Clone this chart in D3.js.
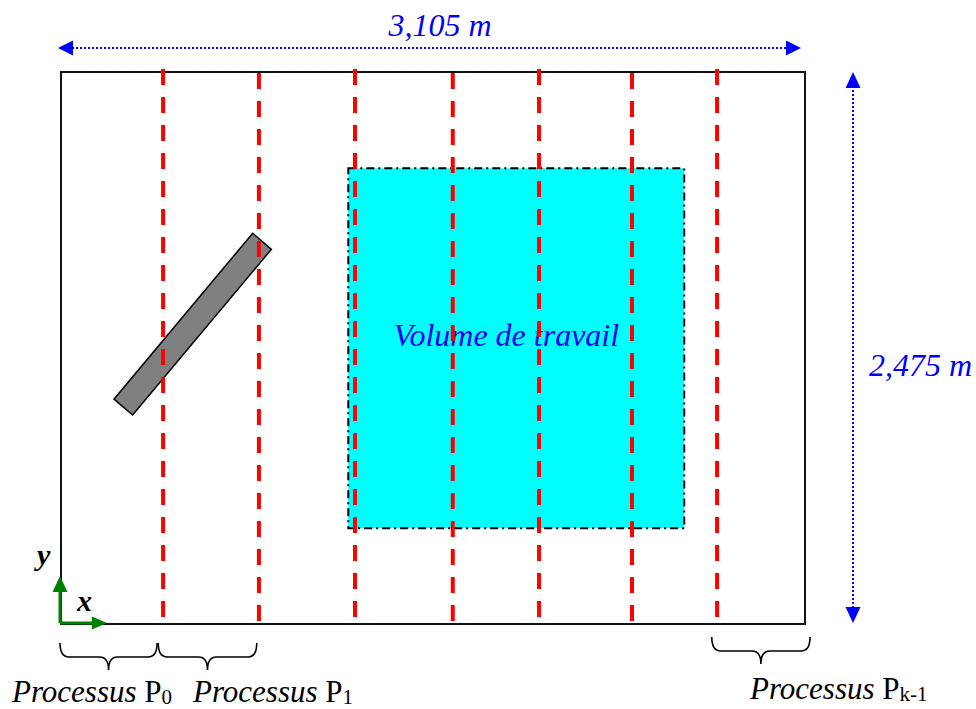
<!DOCTYPE html>
<html><head><meta charset="utf-8">
<script src="https://cdn.jsdelivr.net/npm/d3@7"></script>
<style>body{margin:0;background:#fff}svg{display:block}</style>
</head><body>
<svg id="c" width="976" height="709"></svg>
<script>
// ---- Data (metres) ----
const domainWidth = 3.105;
const domainHeight = 2.475;
const widthLabel = "3,105 m";
const heightLabel = "2,475 m";
const partitionX = [0.426, 0.826, 1.227, 1.635, 1.995, 2.383, 2.738];
const workVolumeX = [1.199, 2.601];
const workVolumeY = [0.429, 2.043];
const workVolumeLabel = "Volume de travail";
const barCornerX = [0.800, 0.878, 0.299, 0.221];
const barCornerY = [1.752, 1.680, 0.937, 1.008];
const processWord = "Processus";
const processSub = ["0", "1", "k-1"];
const braceStart = [0.000, 0.410, 2.720];
const braceEnd = [0.401, 0.817, 3.126];

// ---- Layout ----
const svg = d3.select("#c");
const x = d3.scaleLinear().domain([0, domainWidth]).range([61, 805]);
const y = d3.scaleLinear().domain([0, domainHeight]).range([624, 72]);
const serif = "'Liberation Serif','Times New Roman',serif";
const blue = "#0000ff", red = "#ff0000", green = "#008000";

// outer rectangle
svg.append("rect")
  .attr("x", x(0)).attr("y", y(domainHeight))
  .attr("width", x(domainWidth) - x(0)).attr("height", y(0) - y(domainHeight))
  .attr("fill", "none").attr("stroke", "#111").attr("stroke-width", 2);

// work volume
svg.append("rect")
  .attr("x", x(workVolumeX[0])).attr("y", y(workVolumeY[1]))
  .attr("width", x(workVolumeX[1]) - x(workVolumeX[0]))
  .attr("height", y(workVolumeY[0]) - y(workVolumeY[1]))
  .attr("fill", "#00ffff").attr("stroke", "#000").attr("stroke-width", 2)
  .attr("stroke-dasharray", "8,4,2,4");

svg.append("text")
  .attr("x", x((workVolumeX[0] + workVolumeX[1]) / 2) - 10)
  .attr("y", 346)
  .attr("text-anchor", "middle")
  .attr("font-family", serif).attr("font-style", "italic").attr("font-size", 32)
  .attr("fill", blue).text(workVolumeLabel);

// gray bar
svg.append("path")
  .attr("d", "M" + barCornerX.map((v, i) => x(v) + "," + y(barCornerY[i])).join("L") + "Z")
  .attr("fill", "#808080").attr("stroke", "#000").attr("stroke-width", 1.5);

// red partition lines
svg.selectAll("line.part").data(partitionX).enter().append("line")
  .attr("class", "part")
  .attr("x1", d => x(d)).attr("x2", d => x(d))
  .attr("y1", (d, i) => y(domainHeight) - (i % 2 === 0 ? 3 : -1))
  .attr("y2", y(0) - 3)
  .attr("stroke", red).attr("stroke-width", 4)
  .attr("stroke-dasharray", "16,12");

// green axes
const ox = x(0) - 1, oy = y(0) - 1;
svg.append("path").attr("d", `M${ox},${oy}V${oy - 32}M${ox},${oy}H${ox + 33}`)
  .attr("stroke", green).attr("stroke-width", 3).attr("fill", "none");
svg.append("path").attr("d", `M${ox},${oy - 47}L${ox - 7.5},${oy - 31}L${ox + 7.5},${oy - 31}Z`).attr("fill", green);
svg.append("path").attr("d", `M${ox + 47},${oy}L${ox + 32},${oy - 6.5}L${ox + 32},${oy + 6.5}Z`).attr("fill", green);
svg.append("text").attr("x", 37).attr("y", 565).attr("font-family", serif)
  .attr("font-style", "italic").attr("font-weight", "bold").attr("font-size", 30).text("y");
svg.append("text").attr("x", 77).attr("y", 611).attr("font-family", serif)
  .attr("font-style", "italic").attr("font-weight", "bold").attr("font-size", 30).text("x");

// dimension arrows
const hy = 48, hx0 = x(0) - 3, hx1 = x(domainWidth) - 4;
svg.append("line").attr("x1", hx0 + 14).attr("x2", hx1 - 14).attr("y1", hy).attr("y2", hy)
  .attr("stroke", blue).attr("stroke-width", 2).attr("stroke-dasharray", "2,2");
svg.append("path").attr("d", `M${hx0},${hy}L${hx0 + 15},${hy - 7.5}L${hx0 + 15},${hy + 7.5}Z`).attr("fill", blue);
svg.append("path").attr("d", `M${hx1},${hy}L${hx1 - 15},${hy - 7.5}L${hx1 - 15},${hy + 7.5}Z`).attr("fill", blue);
svg.append("text").attr("x", 440).attr("y", 36).attr("text-anchor", "middle")
  .attr("font-family", serif).attr("font-style", "italic").attr("font-size", 32)
  .attr("fill", blue).text(widthLabel);

const vx = 853, vy0 = y(domainHeight), vy1 = y(0) - 1;
svg.append("line").attr("x1", vx).attr("x2", vx).attr("y1", vy0 + 14).attr("y2", vy1 - 14)
  .attr("stroke", blue).attr("stroke-width", 2).attr("stroke-dasharray", "2,2");
svg.append("path").attr("d", `M${vx},${vy0}L${vx - 7.5},${vy0 + 16}L${vx + 7.5},${vy0 + 16}Z`).attr("fill", blue);
svg.append("path").attr("d", `M${vx},${vy1}L${vx - 7.5},${vy1 - 16}L${vx + 7.5},${vy1 - 16}Z`).attr("fill", blue);
svg.append("text").attr("x", 869).attr("y", 376)
  .attr("font-family", serif).attr("font-style", "italic").attr("font-size", 32)
  .attr("fill", blue).text(heightLabel);

// braces
const braceTop = [643, 643, 637];
const labelX = [12, 193, 750];
const labelY = [702, 702, 699];
function bracePath(x0, x1, top) {
  const mid = top + 14, tip = top + 27, r = 9, xm = (x0 + x1) / 2;
  return `M${x0},${top}Q${x0},${mid} ${x0 + r},${mid}L${xm - r},${mid}Q${xm},${mid} ${xm},${tip}` +
         `Q${xm},${mid} ${xm + r},${mid}L${x1 - r},${mid}Q${x1},${mid} ${x1},${top}`;
}
braceStart.forEach((s, i) => {
  svg.append("path").attr("d", bracePath(x(s) - 1, x(braceEnd[i]), braceTop[i]))
    .attr("fill", "none").attr("stroke", "#000").attr("stroke-width", 1.6);
  const t = svg.append("text").attr("x", labelX[i]).attr("y", labelY[i])
    .attr("font-family", serif).attr("font-size", 31).attr("fill", "#000");
  t.append("tspan").attr("font-style", "italic").text(processWord + " ");
  t.append("tspan").text("P");
  t.append("tspan").attr("font-size", 21).attr("dy", 1.5).text(processSub[i]);
});
</script>
</body></html>
